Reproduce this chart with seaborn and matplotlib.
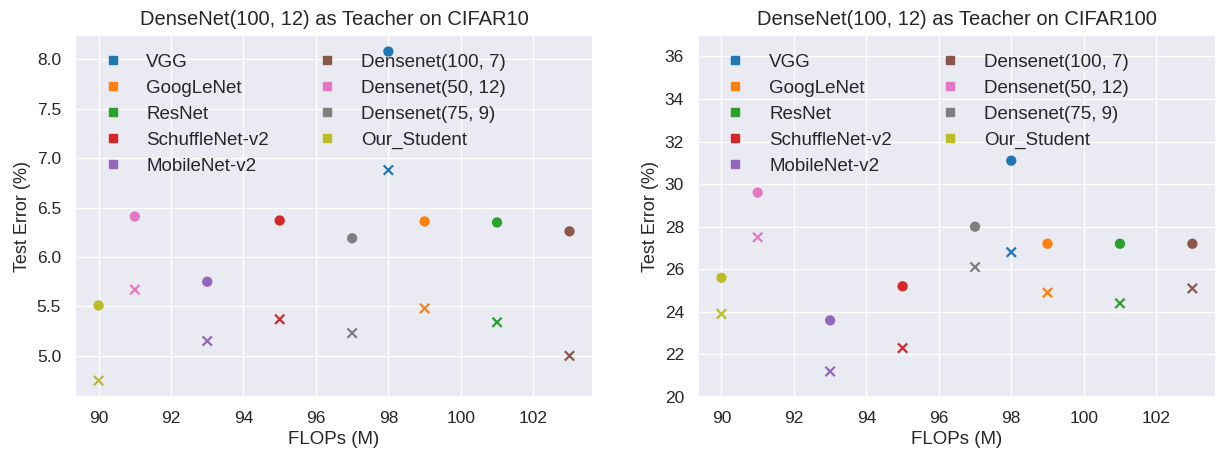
import matplotlib
matplotlib.use("Agg")
import matplotlib.pyplot as plt
import seaborn as sns
import pandas as pd
from matplotlib.lines import Line2D

models = ["VGG", "GoogLeNet", "ResNet", "SchuffleNet-v2", "MobileNet-v2",
          "Densenet(100, 7)", "Densenet(50, 12)", "Densenet(75, 9)", "Our_Student"]
flops = [98, 99, 101, 95, 93, 103, 91, 97, 90]

# CIFAR10: circle = trained alone, x = trained with the teacher
c10_base = [8.08, 6.36, 6.35, 6.37, 5.75, 6.26, 6.41, 6.19, 5.51]
c10_kd = [6.88, 5.48, 5.34, 5.37, 5.15, 5.00, 5.67, 5.23, 4.75]

# CIFAR100
c100_base = [31.1, 27.2, 27.2, 25.2, 23.6, 27.2, 29.6, 28.0, 25.6]
c100_kd = [26.8, 24.9, 24.4, 22.3, 21.2, 25.1, 27.5, 26.1, 23.9]

titles = ["DenseNet(100, 12) as Teacher on CIFAR10",
          "DenseNet(100, 12) as Teacher on CIFAR100"]

sns.set_theme(style="darkgrid")
plt.rcParams["font.family"] = ["Liberation Sans", "DejaVu Sans"]

palette = dict(zip(models, sns.color_palette("tab10", len(models))))

fig = plt.figure(figsize=(12.18, 4.53), dpi=100)
ax1 = fig.add_axes([0.0616, 0.1236, 0.4253, 0.799])
ax2 = fig.add_axes([0.573, 0.1236, 0.4253, 0.799])

for ax, base, kd, title in [(ax1, c10_base, c10_kd, titles[0]),
                            (ax2, c100_base, c100_kd, titles[1])]:
    df = pd.DataFrame({"model": models, "flops": flops, "base": base, "kd": kd})
    sns.scatterplot(data=df, x="flops", y="base", hue="model", hue_order=models,
                    palette=palette, s=55, marker="o", linewidth=0, legend=False, ax=ax)
    sns.scatterplot(data=df, x="flops", y="kd", hue="model", hue_order=models,
                    palette=palette, s=45, marker="x", linewidth=1.6, legend=False, ax=ax)
    ax.set_title(title, fontsize=14.5, pad=7)
    ax.set_xlabel("FLOPs (M)", fontsize=13.5)
    ax.set_ylabel("Test Error (%)", fontsize=13)
    ax.tick_params(labelsize=12.5, pad=4)
    ax.set_xticks([90, 92, 94, 96, 98, 100, 102])

    handles = [Line2D([], [], marker="s", linestyle="", markersize=5.5,
                      color=palette[m], label=m) for m in models]
    ax.legend(handles=handles, loc="upper left", ncol=2, frameon=False,
              fontsize=13.5, columnspacing=2.1, labelspacing=0.47,
              handletextpad=0.8, borderaxespad=0.6)

ax2.set_ylim(20, 37)
ax2.set_yticks(range(20, 37, 2))

fig.savefig("out.png", dpi=100)
plt.close(fig)
